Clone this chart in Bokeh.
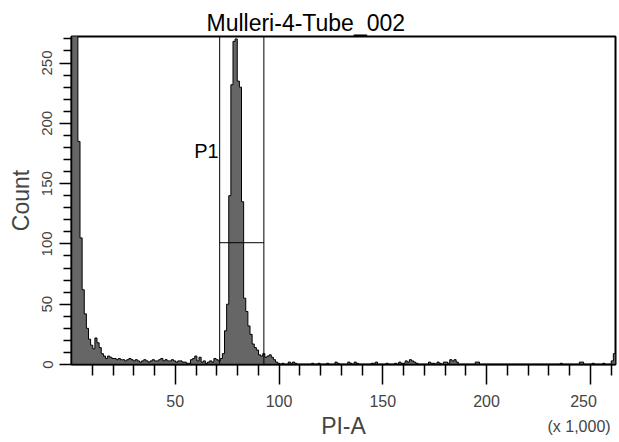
import numpy as np
from bokeh.plotting import figure
from bokeh.models import FixedTicker, Label, Range1d
from bokeh.embed import file_html
from bokeh.resources import INLINE

# ---------------- data ----------------
TITLE = "Mulleri-4-Tube_002"
X_LABEL = "PI-A"
Y_LABEL = "Count"
X_SCALE_NOTE = "(x 1,000)"
X_MAX = 262.144          # PI-A channel range, in thousands
N_BINS = 256
Y_MAX = 272
X_TICKS = [50, 100, 150, 200, 250]
X_MINOR = [10, 20, 30, 40, 60, 70, 80, 90, 110, 120, 130, 140, 160, 170, 180, 190,
           210, 220, 230, 240, 260]
Y_TICKS = [0, 50, 100, 150, 200, 250]
Y_MINOR = [10, 20, 30, 40, 60, 70, 80, 90, 110, 120, 130, 140, 160, 170, 180, 190,
           210, 220, 230, 240, 260, 270]
GATE_NAME = "P1"
GATE_X = [71.4, 92.7]
GATE_Y = 101

# counts per bin (bin width = X_MAX / N_BINS)
debris_peak = [420, 380, 300, 185, 105, 62, 42, 30, 21, 16,
               13, 22, 18, 14, 9, 7, 5, 7, 6, 5]                      # bins 0-19
debris_tail = [5, 4, 5, 4, 4, 3, 4, 5, 4, 3, 4, 3, 2, 3, 4, 3, 2, 3, 4, 3,
               3, 4, 5, 3, 4, 3, 3, 4, 3, 2, 3, 3, 2, 2, 1, 1, 4,
               5, 7, 3, 6, 2, 3, 1, 2, 3, 2, 5, 4, 3]                  # bins 20-69
g1_peak = [5, 9, 28, 50, 140, 232, 268, 270, 235, 230,
           135, 55, 44, 32, 25, 17, 14, 12, 8, 7,
           9, 6, 7, 8, 6, 4, 2, 1]                                      # bins 70-97
high_channels = [0, 1,
                 0, 0, 2, 1, 2, 1, 0, 0, 0, 0,
                 0, 0, 0, 1, 0, 0, 1, 0, 0, 0,
                 1, 0, 0, 0, 2, 1, 0, 0, 0, 0,
                 2, 1, 0, 2, 1, 0, 0, 0, 0, 0,
                 0, 1, 1, 2, 0, 0, 0, 0, 1, 0,
                 0, 0, 1, 0, 2, 1, 1, 3, 2, 4,
                 3, 2, 1, 0, 0, 0, 0, 0, 2, 1,
                 1, 0, 2, 1, 0, 2, 2, 1, 4, 3,
                 4, 2, 0, 0, 0, 0, 0, 0, 0, 0,
                 2, 2, 0, 0, 0, 0, 0, 0, 0, 0,
                 0, 0, 0, 0, 0, 0, 0, 0, 0, 0,
                 0, 0, 0, 0, 0, 0, 0, 0, 0, 0,
                 0, 0, 0, 0, 0, 0, 0, 0, 0, 0,
                 1, 0, 0, 0, 0, 0, 0, 0, 0, 2,
                 2, 0, 0, 0, 0, 1, 0, 0, 0, 0,
                 1, 0, 0, 0, 3, 9]                                      # bins 98-255

counts = np.array(debris_peak + debris_tail + g1_peak + high_channels, dtype=float)
bin_w = X_MAX / N_BINS
edges = np.arange(N_BINS + 1) * bin_w

# step polygon of the histogram, built from the bins
poly_x = np.concatenate([[0.0], np.repeat(edges, 2)[1:-1], [X_MAX]])
poly_y = np.concatenate([[0.0], np.repeat(counts, 2), [0.0]])

FONT = "Liberation Sans"

p = figure(width=619, height=442,
           x_range=Range1d(0, X_MAX), y_range=Range1d(0, Y_MAX),
           output_backend="svg", toolbar_location=None,
           min_border_left=71, min_border_right=4,
           min_border_top=36, min_border_bottom=78)
p.background_fill_color = "white"
p.border_fill_color = "white"
p.outline_line_color = "black"
p.outline_line_width = 2
p.xgrid.visible = False
p.ygrid.visible = False

# title
p.title.text = TITLE
p.title.align = "left"
p.title.offset = 135
p.title.standoff = 1
p.title.text_font = FONT
p.title.text_font_size = "23px"
p.title.text_font_style = "normal"
p.title.text_color = "black"

# histogram fill and outline
p.patch(x=poly_x, y=poly_y, fill_color="#666666", line_color=None)
p.step(x=edges, y=np.append(counts, counts[-1]), mode="after",
       line_color="black", line_width=1)

# gate P1
p.segment(x0=[GATE_X[0], GATE_X[1], GATE_X[0]],
          y0=[0, 0, GATE_Y],
          x1=[GATE_X[0], GATE_X[1], GATE_X[1]],
          y1=[Y_MAX, Y_MAX, GATE_Y],
          line_color="black", line_width=1)
p.add_layout(Label(x=GATE_X[0], y=177, x_offset=-1, text=GATE_NAME,
                   text_font=FONT, text_font_size="20px", text_color="black",
                   text_align="right", text_baseline="middle"))

# axes
xa = p.xaxis[0]
xa.ticker = FixedTicker(ticks=X_TICKS, minor_ticks=X_MINOR)
# the scale note sits under the last tick label (labels outside the frame are clipped)
xa.major_label_overrides = {X_TICKS[-1]: f"{X_TICKS[-1]}\n{X_SCALE_NOTE}\u00a0\u00a0"}
xa.major_label_text_line_height = 1.5
xa.axis_label = X_LABEL
xa.axis_label_text_font = FONT
xa.axis_label_text_font_size = "23px"
xa.axis_label_text_font_style = "normal"
xa.axis_label_text_line_height = 1.0
xa.axis_label_standoff = -25
xa.major_label_text_font = FONT
xa.major_label_text_font_size = "16px"
xa.major_label_standoff = 8
xa.major_tick_out = 20
xa.major_tick_in = 0
xa.minor_tick_out = 11
xa.minor_tick_in = 0
xa.axis_line_width = 1.5
xa.axis_line_color = "black"
xa.major_tick_line_color = "black"
xa.minor_tick_line_color = "black"
xa.major_tick_line_width = 1.5
xa.minor_tick_line_width = 1.5

ya = p.yaxis[0]
ya.ticker = FixedTicker(ticks=Y_TICKS, minor_ticks=Y_MINOR)
ya.axis_label = Y_LABEL
ya.axis_label_text_font = FONT
ya.axis_label_text_font_size = "23px"
ya.axis_label_text_font_style = "normal"
ya.axis_label_standoff = 6
ya.major_label_text_font = FONT
ya.major_label_text_font_size = "15px"
ya.major_label_orientation = "vertical"
ya.major_label_standoff = 7
ya.major_tick_out = 12
ya.major_tick_in = 0
ya.minor_tick_out = 8
ya.minor_tick_in = 0
ya.axis_line_width = 1.5
ya.axis_line_color = "black"
ya.major_tick_line_color = "black"
ya.minor_tick_line_color = "black"
ya.major_tick_line_width = 1.5
ya.minor_tick_line_width = 1.5

open("out.html", "w").write(file_html(p, INLINE))
